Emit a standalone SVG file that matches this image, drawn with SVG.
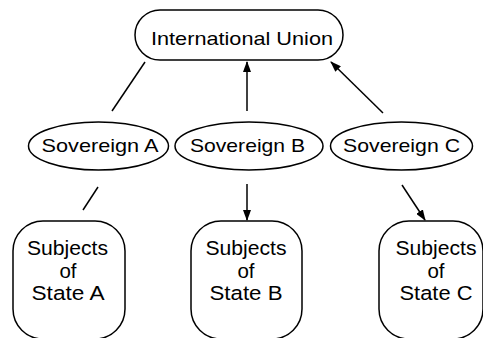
<svg xmlns="http://www.w3.org/2000/svg" width="483" height="338" viewBox="0 0 483 338">
<style>
.shape{fill:#fff;stroke:#000;stroke-width:1.5}
.lbl{font-family:"Liberation Sans",Arial,Helvetica,sans-serif;font-size:19px;fill:#000;text-anchor:middle}
.big{font-size:20.5px}
.con{stroke:#000;stroke-width:1.5;fill:none}
</style>
<defs>
<marker id="arr" markerUnits="userSpaceOnUse" markerWidth="11" markerHeight="8" refX="10" refY="4" orient="auto">
<path d="M0,0 L11,4 L0,8 z" fill="#000"/>
</marker>
</defs>
<rect width="483" height="338" fill="#fff"/>
<g id="connectors">
<line class="con" x1="145" y1="62" x2="112" y2="111"/>
<line class="con" x1="247" y1="111" x2="247" y2="62" marker-end="url(#arr)"/>
<line class="con" x1="383" y1="113" x2="331" y2="62" marker-end="url(#arr)"/>
<line class="con" x1="98" y1="187" x2="83" y2="210"/>
<line class="con" x1="247" y1="184" x2="247" y2="220" marker-end="url(#arr)"/>
<line class="con" x1="402" y1="185" x2="425" y2="220" marker-end="url(#arr)"/>
</g>
<g id="international-union">
<rect class="shape" x="135" y="10" width="208" height="50" rx="25" ry="25"/>
<text class="lbl" x="242" y="45" textLength="182" lengthAdjust="spacingAndGlyphs">International Union</text>
</g>
<g id="sovereign-a">
<ellipse class="shape" cx="98.5" cy="146" rx="70" ry="24"/>
<text class="lbl" x="100" y="152" textLength="117" lengthAdjust="spacingAndGlyphs">Sovereign A</text>
</g>
<g id="sovereign-b">
<ellipse class="shape" cx="249" cy="146" rx="74" ry="24"/>
<text class="lbl" x="247.5" y="152" textLength="115" lengthAdjust="spacingAndGlyphs">Sovereign B</text>
</g>
<g id="sovereign-c">
<ellipse class="shape" cx="401.5" cy="146" rx="71" ry="24"/>
<text class="lbl" x="401.5" y="152" textLength="117" lengthAdjust="spacingAndGlyphs">Sovereign C</text>
</g>
<g id="subjects-a">
<rect class="shape" x="13" y="221" width="112" height="118" rx="30" ry="30"/>
<text class="lbl big" x="67.5" y="255" textLength="81" lengthAdjust="spacingAndGlyphs">Subjects</text>
<text class="lbl big" x="68" y="277.5">of</text>
<text class="lbl big" x="68" y="300" textLength="73" lengthAdjust="spacingAndGlyphs">State A</text>
</g>
<g id="subjects-b">
<rect class="shape" x="191" y="221" width="111" height="118" rx="30" ry="30"/>
<text class="lbl big" x="246" y="255" textLength="81" lengthAdjust="spacingAndGlyphs">Subjects</text>
<text class="lbl big" x="246" y="277.5">of</text>
<text class="lbl big" x="246" y="300" textLength="73" lengthAdjust="spacingAndGlyphs">State B</text>
</g>
<g id="subjects-c">
<rect class="shape" x="379" y="221" width="104" height="118" rx="30" ry="30"/>
<text class="lbl big" x="436" y="255" textLength="81" lengthAdjust="spacingAndGlyphs">Subjects</text>
<text class="lbl big" x="436" y="277.5">of</text>
<text class="lbl big" x="436" y="300" textLength="73" lengthAdjust="spacingAndGlyphs">State C</text>
</g>
</svg>
